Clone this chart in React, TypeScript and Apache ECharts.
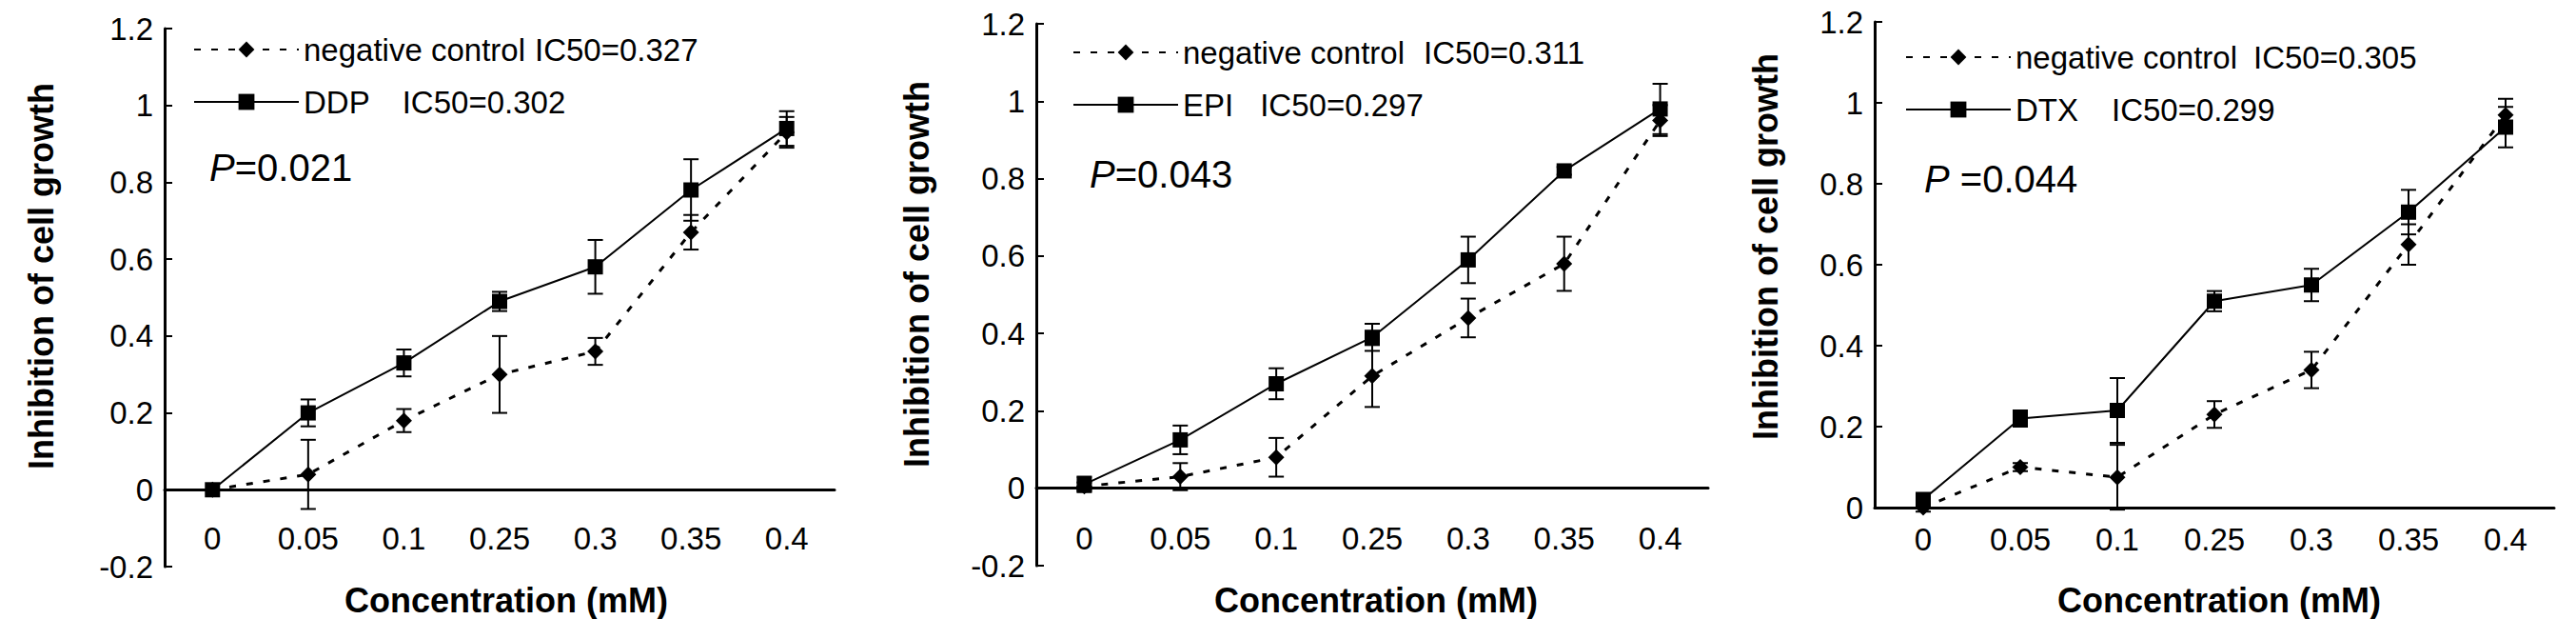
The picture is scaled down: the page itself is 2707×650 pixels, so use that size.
import React, { useEffect, useRef } from "react";
import * as echarts from "echarts";

// concentrations (mM) on the x axis
const categories = ["0", "0.05", "0.1", "0.25", "0.3", "0.35", "0.4"];

// panel 1: DDP
const ddpMean = [0, 0.2, 0.33, 0.49, 0.58, 0.78, 0.94];
const ddpErr = [0, 0.035, 0.035, 0.025, 0.07, 0.08, 0.045];
const nc1Mean = [0, 0.04, 0.18, 0.3, 0.36, 0.67, 0.93];
const nc1Err = [0, 0.09, 0.03, 0.1, 0.035, 0.045, 0.04];

// panel 2: EPI
const epiMean = [0.01, 0.125, 0.27, 0.39, 0.59, 0.82, 0.98];
const epiErr = [0.02, 0.037, 0.04, 0.035, 0.06, 0.01, 0.065];
const nc2Mean = [0.005, 0.03, 0.08, 0.29, 0.44, 0.58, 0.95];
const nc2Err = [0.01, 0.035, 0.05, 0.08, 0.05, 0.07, 0.04];

// panel 3: DTX
const dtxMean = [0.02, 0.22, 0.24, 0.51, 0.55, 0.73, 0.94];
const dtxErr = [0.01, 0.02, 0.08, 0.025, 0.04, 0.055, 0.05];
const nc3Mean = [0, 0.1, 0.075, 0.23, 0.34, 0.65, 0.97];
const nc3Err = [0.01, 0.01, 0.08, 0.033, 0.045, 0.05, 0.04];

const drugNames = ["DDP", "EPI", "DTX"];
const ncIC50 = ["IC50=0.327", "IC50=0.311", "IC50=0.305"];
const drugIC50 = ["IC50=0.302", "IC50=0.297", "IC50=0.299"];
const pValues = ["=0.021", "=0.043", " =0.044"];
const yMins = [-0.2, -0.2, 0];

const FONT = "'Liberation Sans', Arial, sans-serif";

// layout of each panel (labelMargin is measured from the grid bottom; negative pulls labels up under the zero line)
const panels = [
  { left: 173, top: 30, width: 704, height: 565, legendLeft: 203, legendTop: 35, ncGap: 10, drugGap: 34, pLeft: 220, pY: 178, yTitle: [43, 290], xTitle: [532, 630], labelMargin: -46 },
  { left: 1089, top: 25, width: 706, height: 569, legendLeft: 1127, legendTop: 38, ncGap: 20, drugGap: 28, pLeft: 1145, pY: 185, yTitle: [963, 288], xTitle: [1446, 630], labelMargin: -45 },
  { left: 1970, top: 23, width: 714, height: 510, legendLeft: 2002, legendTop: 43, ncGap: 17, drugGap: 35, pLeft: 2022, pY: 190, yTitle: [1855, 259], xTitle: [2332, 630], labelMargin: 17 },
];

const App: React.FC = () => {
  const chartRef = useRef<HTMLDivElement>(null);

  useEffect(() => {
    if (!chartRef.current) return;
    const chart = echarts.init(chartRef.current, null, { renderer: "svg" });

    const sets = [
      { drug: ddpMean, drugErr: ddpErr, nc: nc1Mean, ncErr: nc1Err },
      { drug: epiMean, drugErr: epiErr, nc: nc2Mean, ncErr: nc2Err },
      { drug: dtxMean, drugErr: dtxErr, nc: nc3Mean, ncErr: nc3Err },
    ];

    const errorBars = (mean: number[], err: number[], i: number) => ({
      type: "custom",
      xAxisIndex: i,
      yAxisIndex: i,
      z: 1,
      silent: true,
      data: mean.map((m, k) => [k, m, err[k]]),
      encode: { x: 0, y: 1 },
      renderItem: (_params: any, api: any) => {
        const xi = api.value(0);
        const m = api.value(1);
        const e = api.value(2);
        const top = api.coord([xi, m + e]);
        const bot = api.coord([xi, m - e]);
        const hw = 8;
        const st = { stroke: "#000", lineWidth: 2 };
        return {
          type: "group",
          children: [
            { type: "line", shape: { x1: top[0], y1: top[1], x2: bot[0], y2: bot[1] }, style: st },
            { type: "line", shape: { x1: top[0] - hw, y1: top[1], x2: top[0] + hw, y2: top[1] }, style: st },
            { type: "line", shape: { x1: bot[0] - hw, y1: bot[1], x2: bot[0] + hw, y2: bot[1] }, style: st },
          ],
        };
      },
    });

    const series: any[] = [];
    const legends: any[] = [];
    const graphics: any[] = [];

    panels.forEach((p, i) => {
      const ncName = "negative control " + ncIC50[i];
      const drugName = drugNames[i] + " " + drugIC50[i];
      series.push({
        name: ncName,
        type: "line",
        xAxisIndex: i,
        yAxisIndex: i,
        z: 2,
        data: sets[i].nc,
        symbol: "diamond",
        symbolSize: 17,
        itemStyle: { color: "#000" },
        lineStyle: { color: "#000", width: 3, type: [7, 11] },
      });
      series.push({
        name: drugName,
        type: "line",
        xAxisIndex: i,
        yAxisIndex: i,
        z: 3,
        data: sets[i].drug,
        symbol: "rect",
        symbolSize: 16,
        itemStyle: { color: "#000" },
        lineStyle: { color: "#000", width: 2, type: "solid" },
      });
      series.push(errorBars(sets[i].nc, sets[i].ncErr, i));
      series.push(errorBars(sets[i].drug, sets[i].drugErr, i));

      legends.push({
        left: p.legendLeft,
        top: p.legendTop,
        orient: "vertical",
        padding: 0,
        itemWidth: 110,
        itemHeight: 21,
        itemGap: 21,
        selectedMode: false,
        data: [ncName, drugName],
        formatter: (name: string) =>
          name === ncName
            ? "negative control{a|" + ncIC50[i] + "}"
            : drugNames[i] + "{b|" + drugIC50[i] + "}",
        textStyle: {
          fontFamily: FONT,
          fontSize: 33,
          lineHeight: 34,
          color: "#000",
          rich: {
            a: { fontFamily: FONT, fontSize: 33, lineHeight: 34, color: "#000", padding: [0, 0, 0, p.ncGap] },
            b: { fontFamily: FONT, fontSize: 33, lineHeight: 34, color: "#000", padding: [0, 0, 0, p.drugGap] },
          },
        },
      });

      graphics.push({
        type: "text",
        left: p.pLeft,
        top: p.pY - 22,
        style: {
          text: "{i|P}" + pValues[i],
          fontFamily: FONT,
          fontSize: 40,
          fill: "#000",
          rich: { i: { fontFamily: FONT, fontSize: 40, fontStyle: "italic", fill: "#000" } },
        },
      });
      graphics.push({
        type: "text",
        x: p.yTitle[0],
        y: p.yTitle[1],
        rotation: Math.PI / 2,
        style: {
          text: "Inhibition of cell growth",
          fontFamily: FONT,
          fontSize: 36,
          fontWeight: "bold",
          fill: "#000",
          align: "center",
          verticalAlign: "middle",
          textAlign: "center",
          textVerticalAlign: "middle",
        },
      });
      graphics.push({
        type: "text",
        x: p.xTitle[0],
        y: p.xTitle[1],
        style: {
          text: "Concentration (mM)",
          fontFamily: FONT,
          fontSize: 36,
          fontWeight: "bold",
          fill: "#000",
          align: "center",
          verticalAlign: "middle",
          textAlign: "center",
          textVerticalAlign: "middle",
        },
      });
    });

    chart.setOption({
      animation: false,
      backgroundColor: "#fff",
      grid: panels.map((p) => ({ left: p.left, top: p.top, width: p.width, height: p.height })),
      xAxis: panels.map((p, i) => ({
        type: "category",
        gridIndex: i,
        data: categories,
        boundaryGap: true,
        axisLine: { onZero: true, lineStyle: { color: "#000", width: 3 } },
        axisTick: { inside: true, length: 10, lineStyle: { color: "#000", width: 2 } },
        axisLabel: { color: "#000", fontFamily: FONT, fontSize: 33, margin: p.labelMargin },
        splitLine: { show: false },
      })),
      yAxis: panels.map((_p, i) => ({
        type: "value",
        gridIndex: i,
        min: yMins[i],
        max: 1.2,
        interval: 0.2,
        axisLine: { show: true, onZero: false, lineStyle: { color: "#000", width: 3 } },
        axisTick: { show: true, inside: true, length: 8, lineStyle: { color: "#000", width: 2 } },
        axisLabel: { color: "#000", fontFamily: FONT, fontSize: 33, margin: 12 },
        splitLine: { show: false },
      })),
      legend: legends,
      graphic: graphics,
      series,
    });

    return () => {
      chart.dispose();
    };
  }, []);

  return (
    <div
      ref={chartRef}
      style={{ position: "absolute", left: 0, top: 0, width: 2707, height: 650 }}
    />
  );
};

export default App;
